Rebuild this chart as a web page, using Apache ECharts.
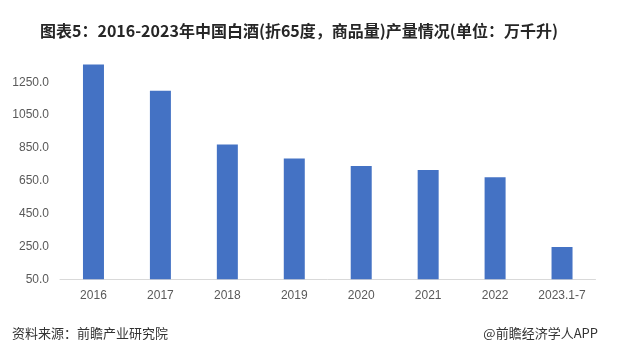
<!DOCTYPE html>
<html>
<head>
<meta charset="utf-8">
<script src="https://cdn.jsdelivr.net/npm/echarts@6/dist/echarts.min.js"></script>
<style>html,body{margin:0;padding:0;background:#fff}#c{width:633px;height:361px}</style>
</head>
<body>
<div id="c"></div>
<script>
const titleText = '图表5：2016-2023年中国白酒(折65度，商品量)产量情况(单位：万千升)';
const sourceText = '资料来源：前瞻产业研究院';
const brandText = '@前瞻经济学人APP';
const categories = ['2016', '2017', '2018', '2019', '2020', '2021', '2022', '2023.1-7'];
const production = [1358.4, 1198.1, 871.2, 785.9, 740.7, 715.6, 671.2, 246.6];
const yMin = 50, yMax = 1450, yInterval = 200;

const chart = echarts.init(document.getElementById('c'), null, {renderer: 'canvas'});
chart.setOption({
  animation: false,
  backgroundColor: '#ffffff',
  title: {
    text: titleText,
    left: 40, top: 23, padding: 0,
    textStyle: {fontFamily: 'Noto Sans CJK SC', fontWeight: 'bold', fontSize: 16, color: '#262626'}
  },
  graphic: [
    {type: 'text', x: 12, y: 333, style: {text: sourceText, font: '13px "Noto Sans CJK SC"', fill: '#333333', verticalAlign: 'middle', align: 'left'}},
    {type: 'text', x: 598, y: 333, style: {text: brandText, font: '13px "Noto Sans CJK SC"', fill: '#333333', verticalAlign: 'middle', align: 'right'}}
  ],
  grid: {left: 60, right: 37.5, top: 49.4, bottom: 81.7, containLabel: false},
  xAxis: {
    type: 'category',
    data: categories,
    axisLine: {lineStyle: {color: '#d9d9d9', width: 1}},
    axisTick: {show: false},
    axisLabel: {color: '#595959', fontSize: 12, fontFamily: 'Liberation Sans', margin: 10, interval: 0}
  },
  yAxis: {
    type: 'value',
    min: yMin, max: yMax, interval: yInterval,
    axisLine: {show: false},
    axisTick: {show: false},
    splitLine: {show: false},
    axisLabel: {
      color: '#595959', fontSize: 12, fontFamily: 'Liberation Sans', margin: 11,
      showMaxLabel: false,
      formatter: v => v.toFixed(1)
    }
  },
  series: [{
    type: 'bar',
    data: production,
    barWidth: 21,
    itemStyle: {color: '#4472C4'}
  }]
});
</script>
</body>
</html>
